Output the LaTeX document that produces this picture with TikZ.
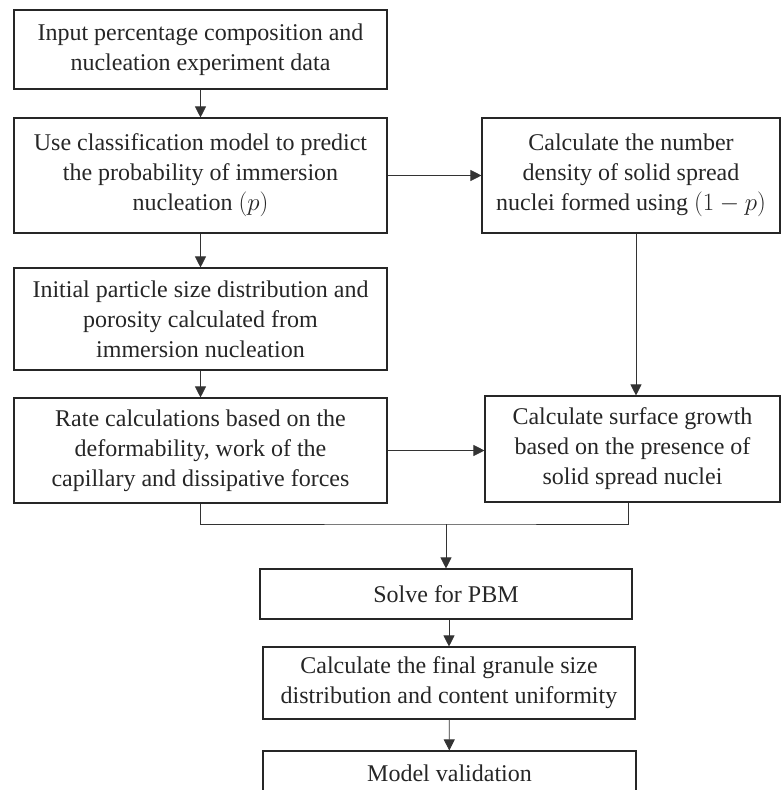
\documentclass[tikz,border=0pt]{standalone}
\usepackage{fontspec}
\setmainfont{Liberation Serif}
\usetikzlibrary{arrows.meta}
\tikzset{
	blk/.style={draw=black!85,line width=1.1pt,align=center,inner sep=0pt,
		text=black!85,font=\fontsize{24}{30}\selectfont},
	link/.style={draw=black!80,line width=0.8pt},
	arr/.style={link,-{Triangle[length=11pt,width=11pt]}}
}
\begin{document}
\begin{tikzpicture}[x=1pt,y=-1pt]
	\useasboundingbox (0,0) rectangle (781,790);
% left column
	\node[blk,minimum width=373,minimum height=79] (input) at (200.5,49.5)
		{Input percentage composition and\\nucleation experiment data};
	\node[blk,minimum width=373,minimum height=115] (classify) at (200.5,175.5)
		{Use classification model to predict\\the probability of immersion\\nucleation $(p)$};
	\node[blk,minimum width=373,minimum height=102] (initial) at (200.5,319)
		{Initial particle size distribution and\\porosity calculated from\\immersion nucleation};
	\node[blk,minimum width=373,minimum height=105] (rate) at (200.5,450.5)
		{Rate calculations based on the\\deformability, work of the\\capillary and dissipative forces};

% right column
	\node[blk,minimum width=298,minimum height=115] (density) at (631,175.5)
		{Calculate the number\\density of solid spread\\nuclei formed using $(1-p)$};
	\node[blk,minimum width=295,minimum height=106] (surface) at (632.5,449)
		{Calculate surface growth\\based on the presence of\\solid spread nuclei};

% bottom column
	\node[blk,minimum width=372,minimum height=50] (pbm) at (446,594) {Solve for PBM};
	\node[blk,minimum width=372,minimum height=72] (final) at (449,683)
		{Calculate the final granule size\\distribution and content uniformity};
	\node[blk,minimum width=373,minimum height=70] (valid) at (449.5,786) {};
	\node[text=black!85,font=\fontsize{24}{30}\selectfont] (validtxt) at (449.5,773) {Model validation};

	\coordinate (join) at (446,524);

	%Links
	\draw[arr] (input) -- (classify);
	\draw[arr] (classify) -- (initial);
	\draw[arr] (initial) -- (rate);
	\draw[arr] (classify.east) -- (classify.east -| density.west);
	\draw[arr] ([xshift=5]density.south) -- ([xshift=5]density.south |- surface.north);
	\draw[arr] (rate.east) -- (rate.east -| surface.west);

	% merge into PBM
	\draw[link] (rate.south) |- (join) -| ([xshift=-4]surface.south);
	\draw[arr] (join) -- (pbm);
	\draw[arr] ([xshift=3]pbm.south) -- ([xshift=3]pbm.south |- final.north);
	\draw[arr] (final) -- (valid);
\end{tikzpicture}
\end{document}
